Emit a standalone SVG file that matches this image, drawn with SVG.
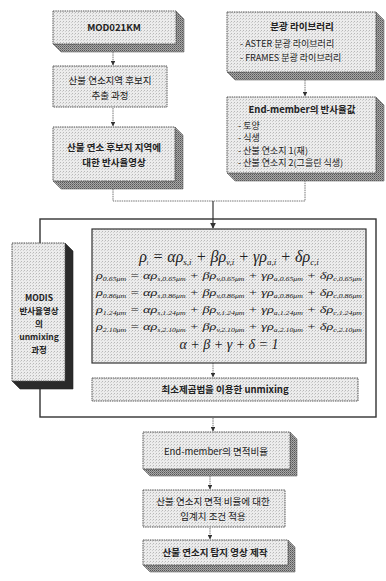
<svg xmlns="http://www.w3.org/2000/svg" width="386" height="581" viewBox="0 0 386 581">
<defs>
<pattern id="dots" width="3" height="3" patternUnits="userSpaceOnUse">
<rect width="3" height="3" fill="#ececec"/>
<rect x="0" y="0" width="1" height="1" fill="#b8b8b8"/>
<rect x="2" y="1" width="1" height="1" fill="#d0d0d0"/>
</pattern>
<pattern id="hatch" width="2" height="2" patternUnits="userSpaceOnUse">
<rect width="2" height="2" fill="#a8a8a8"/>
<rect x="0" y="0" width="1" height="1" fill="#555"/>
<rect x="1" y="1" width="1" height="1" fill="#777"/>
</pattern>
<marker id="arr" viewBox="0 0 8 8" refX="7" refY="4" markerWidth="5" markerHeight="5" orient="auto">
<path d="M0,0 L8,4 L0,8 z" fill="#333"/>
</marker>
</defs>
<style>
.front{fill:url(#dots);stroke:#555;stroke-width:1;stroke-dasharray:1.5 0.8}
.solid{fill:url(#dots);stroke:#333;stroke-width:1.2}
.shade{fill:url(#hatch);stroke:#666;stroke-width:0.6}
.dark{fill:#2b2b2b;stroke:#222;stroke-width:0.6}
.con{fill:none;stroke:#666;stroke-width:0.9;stroke-dasharray:1.5 0.8}
.conS{fill:none;stroke:#333;stroke-width:1.2}
text{font-family:"Noto Sans CJK KR","Liberation Sans",sans-serif;fill:#222}
.t{font-size:9.5px;text-anchor:middle}
.b{font-size:9.5px;font-weight:bold;text-anchor:middle}
.m{font-size:8.5px;font-weight:bold;text-anchor:middle}
.l{font-size:9px}
.eq{font-family:"Liberation Serif","DejaVu Serif",serif;font-style:italic;fill:#222}
.sub{font-size:6px}
</style>

<g id="container">
<rect x="40" y="219" width="336" height="198" fill="none" stroke="#333" stroke-width="1.4"/>
</g>

<g id="connectors">
<line class="con" x1="113" y1="52" x2="113" y2="65" marker-end="url(#arr)"/>
<line class="con" x1="113" y1="108" x2="113" y2="126" marker-end="url(#arr)"/>
<polyline class="con" points="113,189 113,201 305,201 305,181"/>
<line class="con" x1="305" y1="80" x2="305" y2="96" marker-end="url(#arr)"/>
<line class="conS" x1="213" y1="201" x2="213" y2="228" marker-end="url(#arr)"/>
<line class="con" x1="213" y1="363" x2="213" y2="377" marker-end="url(#arr)"/>
<line class="con" x1="213" y1="418" x2="213" y2="431" marker-end="url(#arr)"/>
<line class="con" x1="210" y1="476" x2="210" y2="489" marker-end="url(#arr)"/>
<line class="con" x1="210" y1="528" x2="210" y2="539" marker-end="url(#arr)"/>
</g>

<g id="mod021km">
<polygon class="shade" points="176,11 184,19 184,52 61,52 53,44 176,44"/>
<rect class="front" x="53" y="11" width="123" height="33"/>
<text class="b" x="114" y="31">MOD021KM</text>
</g>

<g id="candidate">
<rect class="front" x="53" y="66" width="114" height="41"/>
<text class="t" x="110" y="84">산불 연소지역 후보지</text>
<text class="t" x="110" y="99">추출 과정</text>
</g>

<g id="reflectance">
<polygon class="shade" points="175,127 183,135 183,189 61,189 53,181 175,181"/>
<rect class="front" x="53" y="127" width="122" height="54"/>
<text class="b" x="114" y="151">산불 연소 후보지 지역에</text>
<text class="b" x="114" y="166">대한 반사율영상</text>
</g>

<g id="library">
<polygon class="shade" points="376,12 384,20 384,80 235,80 227,72 376,72"/>
<rect class="front" x="227" y="12" width="149" height="60"/>
<text class="b" x="302" y="30">분광 라이브러리</text>
<text class="l" x="240" y="47">- ASTER 분광 라이브러리</text>
<text class="l" x="240" y="61">- FRAMES 분광 라이브러리</text>
</g>

<g id="endmember">
<polygon class="shade" points="376,97 384,105 384,181 235,181 227,173 376,173"/>
<rect class="front" x="227" y="97" width="149" height="76"/>
<text class="b" x="302" y="113">End-member의 반사율값</text>
<text class="l" x="238" y="129">- 토양</text>
<text class="l" x="238" y="141">- 식생</text>
<text class="l" x="238" y="154">- 산불 연소지 1(재)</text>
<text class="l" x="238" y="166">- 산불 연소지 2(그을린 식생)</text>
</g>

<g id="modis">
<polygon class="dark" points="65,243 73,251 73,389 20,389 12,381 65,381"/>
<rect class="front" x="12" y="243" width="53" height="138" stroke="#444"/>
<text class="m" x="39" y="301">MODIS</text>
<text class="m" x="39" y="314">반사율영상</text>
<text class="m" x="39" y="327">의</text>
<text class="m" x="39" y="340">unmixing</text>
<text class="m" x="39" y="353">과정</text>
</g>

<g id="equations">
<rect class="solid" x="92" y="229" width="274" height="134"/>
<text class="eq" x="229" y="262" font-size="16" text-anchor="middle">ρ<tspan class="sub" font-size="9" dy="3">i</tspan><tspan dy="-3"> = αρ</tspan><tspan font-size="9" dy="3">s,i</tspan><tspan dy="-3"> + βρ</tspan><tspan font-size="9" dy="3">v,i</tspan><tspan dy="-3"> + γρ</tspan><tspan font-size="9" dy="3">a,i</tspan><tspan dy="-3"> + δρ</tspan><tspan font-size="9" dy="3">c,i</tspan></text>
<text class="eq" x="96" y="279" font-size="11" textLength="266" lengthAdjust="spacingAndGlyphs">ρ<tspan class="sub" dy="2">0.65μm</tspan><tspan dy="-2"> = αρ</tspan><tspan class="sub" dy="2">s,0.65μm</tspan><tspan dy="-2"> + βρ</tspan><tspan class="sub" dy="2">v,0.65μm</tspan><tspan dy="-2"> + γρ</tspan><tspan class="sub" dy="2">a,0.65μm</tspan><tspan dy="-2"> + δρ</tspan><tspan class="sub" dy="2">c,0.65μm</tspan></text>
<text class="eq" x="96" y="296" font-size="11" textLength="266" lengthAdjust="spacingAndGlyphs">ρ<tspan class="sub" dy="2">0.86μm</tspan><tspan dy="-2"> = αρ</tspan><tspan class="sub" dy="2">s,0.86μm</tspan><tspan dy="-2"> + βρ</tspan><tspan class="sub" dy="2">v,0.86μm</tspan><tspan dy="-2"> + γρ</tspan><tspan class="sub" dy="2">a,0.86μm</tspan><tspan dy="-2"> + δρ</tspan><tspan class="sub" dy="2">c,0.86μm</tspan></text>
<text class="eq" x="96" y="313" font-size="11" textLength="266" lengthAdjust="spacingAndGlyphs">ρ<tspan class="sub" dy="2">1.24μm</tspan><tspan dy="-2"> = αρ</tspan><tspan class="sub" dy="2">s,1.24μm</tspan><tspan dy="-2"> + βρ</tspan><tspan class="sub" dy="2">v,1.24μm</tspan><tspan dy="-2"> + γρ</tspan><tspan class="sub" dy="2">a,1.24μm</tspan><tspan dy="-2"> + δρ</tspan><tspan class="sub" dy="2">c,1.24μm</tspan></text>
<text class="eq" x="96" y="330" font-size="11" textLength="266" lengthAdjust="spacingAndGlyphs">ρ<tspan class="sub" dy="2">2.10μm</tspan><tspan dy="-2"> = αρ</tspan><tspan class="sub" dy="2">s,2.10μm</tspan><tspan dy="-2"> + βρ</tspan><tspan class="sub" dy="2">v,2.10μm</tspan><tspan dy="-2"> + γρ</tspan><tspan class="sub" dy="2">a,2.10μm</tspan><tspan dy="-2"> + δρ</tspan><tspan class="sub" dy="2">c,2.10μm</tspan></text>
<text class="eq" x="229" y="349" font-size="14" text-anchor="middle">α + β + γ + δ = 1</text>
</g>

<g id="unmixing">
<rect class="front" x="92" y="378" width="266" height="23" stroke="#444"/>
<text class="b" x="225" y="393">최소제곱법을 이용한 unmixing</text>
</g>

<g id="areaRatio">
<polygon class="shade" points="290,432 297,439 297,476 150,476 143,469 290,469"/>
<rect class="front" x="143" y="432" width="147" height="37"/>
<text class="t" x="216" y="455">End-member의 면적비율</text>
</g>

<g id="threshold">
<rect class="front" x="143" y="490" width="142" height="37"/>
<text class="t" x="213" y="505">산불 연소지 면적 비율에 대한</text>
<text class="t" x="213" y="520">임계치 조건 적용</text>
</g>

<g id="detection">
<polygon class="shade" points="288,540 295,547 295,572 150,572 143,565 288,565"/>
<rect class="front" x="143" y="540" width="145" height="25"/>
<text class="b" x="215" y="556">산불 연소지 탐지 영상 제작</text>
</g>
</svg>
